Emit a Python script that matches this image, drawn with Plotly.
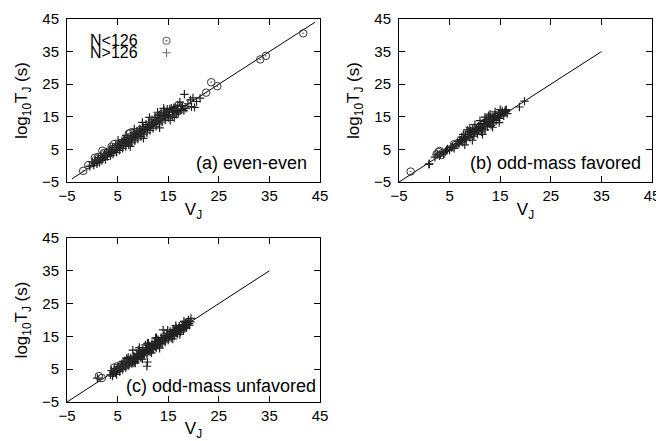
import plotly.graph_objects as go

# ---------------- data ----------------
ticks = [-5, 5, 15, 25, 35, 45]

# (a) even-even
a_lt_x = [-1.8, -0.8, 0.5, 1.1, 2.0, 2.3, 3.8, 4.3, 5.2, 6.4, 7.2, 7.5, 9.5, 11.8, 13.0, 22.5, 23.5, 24.7, 33.2, 34.3, 41.7]
a_lt_y = [-1.6, 0.2, 2.4, 2.7, 4.6, 3.9, 5.8, 6.6, 6.0, 7.4, 9.8, 10.1, 11.0, 13.6, 15.2, 22.4, 25.6, 24.4, 32.6, 33.7, 40.6]
a_gt_x = [-0.5, 0.0, 0.3, 0.6, 0.9, 1.2, 1.4, 1.7, 1.9, 2.1, 2.4, 2.6, 2.8, 3.0, 3.2, 3.4, 3.6, 3.8, 4.0, 4.1,
          4.4, 4.6, 4.8, 5.0, 5.2, 5.4, 5.6, 5.8, 6.0, 6.2, 6.4, 6.6, 6.8, 7.0, 7.2, 7.4, 7.6, 7.8, 8.0, 8.2,
          8.4, 8.6, 8.8, 9.0, 9.2, 9.4, 9.6, 9.8, 10.0, 10.2, 10.4, 10.6, 10.8, 11.0, 11.2, 11.4, 11.6, 11.8, 12.0, 12.2,
          12.4, 12.6, 12.8, 13.0, 13.2, 13.4, 13.6, 13.8, 14.0, 14.2, 14.4, 14.6, 14.8, 15.0, 15.2, 15.4, 15.6, 15.8, 16.0, 16.2,
          16.4, 16.6, 16.8, 17.0, 17.3, 17.5, 17.8, 18.1, 18.2, 18.5, 18.9, 19.4, 19.6, 19.9, 20.2, 20.6, 21.3,
          1.0, 2.3, 3.5, 4.5, 5.5, 6.3, 7.1, 7.9, 8.7, 9.5, 10.3, 11.1, 11.9, 12.7, 13.5, 14.3, 15.1, 15.9, 16.7, 17.5,
          9.9, 11.3, 12.9, 14.1, 8.3, 6.7, 5.1, 13.3, 10.1, 7.5,
          0.4, 1.6, 2.7, 3.9, 5.3, 6.1, 6.9, 7.7, 8.5, 9.3, 10.1, 10.9, 11.7, 12.5, 13.3, 14.5, 15.3, 16.1, 16.9, 17.7]
a_gt_y = [-0.2, 1.2, 0.1, 1.8, 0.6, 2.5, 1.0, 3.1, 1.6, 2.4, 3.6, 1.9, 4.2, 2.8, 3.9, 5.0, 3.1, 4.5, 5.6, 3.6,
          4.9, 6.2, 4.1, 5.4, 6.8, 4.7, 6.0, 7.4, 5.3, 6.7, 8.0, 5.9, 7.3, 8.6, 6.4, 7.9, 9.3, 7.0, 8.5, 10.0,
          7.6, 9.1, 10.6, 8.2, 9.8, 11.3, 8.9, 10.4, 12.0, 9.5, 11.1, 12.7, 10.1, 11.7, 13.4, 10.8, 12.4, 14.1, 11.5, 13.1,
          14.8, 12.1, 13.8, 15.5, 12.8, 14.5, 16.2, 13.4, 15.2, 16.8, 14.0, 15.9, 17.3, 14.7, 16.5, 13.9, 17.6, 15.2, 16.9, 14.8,
          18.1, 15.8, 17.4, 16.2, 19.5, 17.0, 18.4, 16.9, 21.9, 17.6, 19.0, 20.2, 18.1, 20.8, 17.9, 19.7, 20.7,
          1.5, 2.9, 4.2, 5.6, 6.4, 7.2, 7.7, 9.1, 9.6, 10.1, 10.9, 12.1, 12.7, 13.4, 14.3, 15.0, 15.7, 16.4, 16.6, 18.4,
          13.3, 14.8, 16.4, 17.6, 11.3, 9.3, 7.8, 11.6, 8.4, 5.9,
          0.9, 2.1, 3.1, 4.9, 5.9, 7.9, 7.0, 8.6, 8.8, 10.7, 11.5, 11.2, 13.1, 13.9, 15.6, 15.4, 17.3, 17.8, 18.6, 17.3]
a_fit_x = [-4, 44]
a_fit_y = [-4, 44]

# (b) odd-mass favored
b_lt_x = [-2.7, 2.4, 3.0, 3.4, 2.8, 5.9]
b_lt_y = [-1.8, 3.5, 4.5, 3.3, 4.2, 6.6]
b_gt_x = [0.9, 1.0, 2.1, 2.6, 3.0, 3.4, 3.8, 4.2, 4.6, 5.0, 5.4, 5.9, 6.3, 6.6, 6.9, 7.2, 7.4, 7.6, 7.9, 8.1,
          8.3, 8.6, 8.8, 9.0, 9.3, 9.5, 9.8, 10.0, 10.3, 10.5, 10.8, 11.0, 11.3, 11.5, 11.8, 12.0, 12.3, 12.5, 12.7, 12.9,
          13.2, 13.4, 13.7, 13.9, 14.2, 14.4, 14.7, 14.9, 15.2, 15.4, 15.7, 15.9, 16.2, 16.4, 18.8, 19.8,
          7.0, 8.0, 9.1, 10.1, 11.2, 12.2, 13.1, 14.0, 15.0, 16.0, 9.6, 11.9, 13.6, 7.7, 10.7,
          3.2, 4.4, 5.6, 6.7, 7.3, 8.2, 8.9, 9.7, 10.4, 11.1, 11.7, 12.4, 13.0, 13.8, 14.6, 15.3, 16.1,
          8.5, 9.0, 10.0, 11.0, 12.0, 13.0, 14.0, 15.0, 8.0, 9.5, 11.5, 13.5, 14.8]
b_gt_y = [0.4, 0.6, 2.6, 3.4, 3.0, 4.0, 3.6, 4.4, 5.1, 4.8, 5.6, 5.3, 6.4, 7.4, 6.9, 7.8, 8.8, 7.2, 8.4, 9.5,
          7.9, 9.0, 10.3, 8.6, 9.6, 10.8, 9.1, 10.2, 11.4, 9.7, 10.8, 12.0, 10.4, 11.5, 12.7, 11.0, 14.2, 12.0, 15.3, 13.2,
          12.4, 14.0, 13.1, 15.1, 13.8, 14.9, 16.0, 14.5, 15.6, 16.8, 15.3, 16.4, 17.2, 16.0, 18.0, 19.8,
          7.9, 8.7, 10.5, 11.0, 12.9, 13.5, 14.6, 15.4, 16.2, 17.0, 11.2, 13.6, 14.9, 9.6, 12.1,
          3.4, 4.8, 6.0, 6.8, 7.6, 8.5, 9.6, 10.1, 10.9, 11.6, 12.1, 12.9, 13.7, 14.3, 15.2, 16.0, 16.6,
          11.0, 11.6, 12.6, 13.8, 14.9, 15.8, 16.5, 17.2, 6.4, 7.8, 9.6, 11.8, 13.2]
b_fit_x = [-5, 35]
b_fit_y = [-5, 35]

# (c) odd-mass unfavored
c_lt_x = [1.3, 1.9, 4.3, 5.0, 5.7, 6.3, 7.0]
c_lt_y = [2.9, 2.3, 5.5, 5.9, 6.3, 6.5, 6.6]
c_gt_x = [1.0, 3.6, 3.8, 4.0, 4.2, 4.4, 4.6, 4.8, 5.0, 5.2, 5.4, 5.6, 5.8, 6.0, 6.2, 6.4, 6.6, 6.8, 7.0, 7.2,
          7.4, 7.6, 7.8, 8.0, 8.0, 8.2, 8.4, 8.6, 8.8, 9.0, 9.2, 9.4, 9.6, 9.8, 10.0, 10.2, 10.4, 10.5, 10.6, 10.8,
          10.8, 10.9, 11.0, 11.2, 11.4, 11.6, 11.8, 12.0, 12.2, 12.4, 12.6, 12.8, 13.0, 13.2, 13.4, 13.6, 13.8, 14.0, 14.0, 14.2,
          14.4, 14.6, 14.8, 15.0, 15.2, 15.4, 15.6, 15.8, 16.0, 16.2, 16.4, 16.6, 16.8, 17.0, 17.2, 17.4, 17.6, 17.8, 18.0, 18.2,
          18.4, 18.6, 18.8, 19.0, 19.2, 19.4, 19.5,
          4.1, 4.9, 5.7, 6.5, 7.3, 8.1, 8.9, 9.7, 10.5, 11.3, 12.1, 12.9, 13.7, 14.5, 15.3, 16.1, 16.9, 17.7, 18.5,
          6.1, 7.1, 9.1, 11.1, 12.7, 13.3, 15.9, 17.3, 9.9, 8.5, 11.7,
          4.5, 5.1, 5.5, 6.0, 6.7, 7.0, 7.5, 7.9, 8.3, 8.7, 9.1, 9.5, 9.9, 10.3, 10.7, 11.1, 11.5, 11.9, 12.3, 12.7,
          13.1, 13.5, 13.9, 14.3, 14.7, 15.1, 15.5, 15.9, 16.3, 16.7, 17.1, 17.5, 17.9, 18.3, 18.7, 19.1,
          9.3, 10.9, 12.5, 14.9, 16.5, 18.1, 6.8, 8.2]
c_gt_y = [2.3, 3.3, 4.6, 2.9, 3.8, 5.2, 4.0, 3.4, 4.9, 5.8, 4.3, 5.4, 6.6, 4.9, 6.0, 7.1, 5.5, 6.5, 7.8, 6.1,
          7.2, 8.4, 6.7, 7.7, 10.8, 9.0, 7.3, 8.4, 9.7, 7.9, 9.0, 10.3, 8.5, 9.6, 11.0, 9.1, 10.2, 12.4, 11.5, 9.7,
          5.9, 7.2, 10.9, 12.2, 10.3, 11.4, 12.8, 10.9, 12.1, 13.4, 11.5, 12.7, 14.0, 12.1, 13.3, 14.7, 12.7, 17.0, 13.9, 15.3,
          13.3, 14.5, 15.9, 13.9, 15.1, 16.5, 14.5, 15.7, 17.1, 15.1, 16.3, 17.6, 15.7, 16.9, 18.1, 16.3, 17.4, 18.6, 17.0, 18.0,
          19.2, 17.6, 18.7, 20.0, 18.4, 19.4, 20.5,
          4.1, 5.0, 5.8, 6.3, 7.5, 8.3, 8.8, 10.0, 10.6, 11.3, 12.4, 13.0, 13.8, 14.6, 15.3, 16.3, 17.0, 17.5, 18.4,
          7.4, 8.6, 10.8, 12.9, 14.6, 11.4, 14.2, 15.6, 8.1, 6.9, 10.0,
          4.5, 5.3, 4.9, 6.2, 6.9, 6.3, 7.9, 7.2, 8.7, 8.0, 9.4, 8.9, 10.5, 9.8, 11.0, 10.5, 11.9, 11.3, 12.8, 12.0,
          13.5, 12.9, 14.3, 13.7, 15.2, 14.5, 15.9, 15.3, 16.8, 16.1, 17.5, 16.9, 18.2, 17.5, 19.3, 18.9,
          11.6, 12.9, 14.5, 16.9, 18.3, 19.6, 8.3, 6.9]
c_fit_x = [-5, 35]
c_fit_y = [-5, 35]

# ---------------- figure ----------------
# The page body adds an 8 px offset; reference pixel positions are converted accordingly.
OFF = 8
W, H = 664 - OFF, 441 - OFF
FONT = "Liberation Sans, Arial, sans-serif"

circle_marker = dict(symbol="circle-open-dot", size=7.5, color="#333333", line=dict(width=1, color="#333333"))
plus_marker = dict(symbol="cross-thin-open", size=6, color="#222222", line=dict(width=1.2, color="#222222"))

fig = go.Figure()
panels = [
    ("x", "y", a_lt_x, a_lt_y, a_gt_x, a_gt_y, a_fit_x, a_fit_y),
    ("x2", "y2", b_lt_x, b_lt_y, b_gt_x, b_gt_y, b_fit_x, b_fit_y),
    ("x3", "y3", c_lt_x, c_lt_y, c_gt_x, c_gt_y, c_fit_x, c_fit_y),
]
for xa, ya, lx, ly, gx, gy, fx, fy in panels:
    fig.add_trace(go.Scatter(x=fx, y=fy, mode="lines", line=dict(color="black", width=1),
                             xaxis=xa, yaxis=ya, showlegend=False, hoverinfo="skip"))
    fig.add_trace(go.Scatter(x=gx, y=gy, mode="markers", marker=plus_marker, name="N>126",
                             xaxis=xa, yaxis=ya, showlegend=False))
    fig.add_trace(go.Scatter(x=lx, y=ly, mode="markers", marker=circle_marker, name="N<126",
                             xaxis=xa, yaxis=ya, showlegend=False))


def px_x(p):
    return (p - OFF) / W


def px_y(p):
    return 1 - (p - OFF) / H


def axis(domain, anchor, title, is_x):
    return dict(
        domain=domain, anchor=anchor, range=[-5, 45], tickvals=ticks,
        ticks="inside", ticklen=6, tickwidth=1, tickcolor="black",
        mirror="ticks", showline=True, linecolor="black", linewidth=1,
        showgrid=False, zeroline=False, automargin=False,
        ticklabelstandoff=0 if is_x else 4,
        tickfont=dict(family=FONT, size=15, color="black"),
        title=dict(text=title, font=dict(family=FONT, size=17, color="black"), standoff=0 if is_x else 9),
    )


xa_dom = [px_x(67), px_x(320)]
xb_dom = [px_x(399), px_x(652)]
y_top = [px_y(182), px_y(19)]
y_bot = [px_y(402), px_y(238)]

xt = "V<sub>J</sub>"
yt = "log<sub>10</sub>T<sub>J</sub> (s)"

fig.update_layout(
    width=W, height=H,
    margin=dict(l=0, r=0, t=0, b=0),
    paper_bgcolor="white", plot_bgcolor="white",
    font=dict(family=FONT, color="black"),
    xaxis=axis(xa_dom, "y", xt, True),
    yaxis=axis(y_top, "x", yt, False),
    xaxis2=axis(xb_dom, "y2", xt, True),
    yaxis2=axis(y_top, "x2", yt, False),
    xaxis3=axis(xa_dom, "y3", xt, True),
    yaxis3=axis(y_bot, "x3", yt, False),
    showlegend=False,
)

# legend key (gnuplot style: label left, symbol right)
fig.add_trace(go.Scatter(x=[0, 0], y=[1, 0], mode="markers",
                         marker=dict(symbol=[circle_marker["symbol"], plus_marker["symbol"]],
                                     size=[7, 6], color="#303030", line=dict(width=1.1, color="#303030")),
                         xaxis="x4", yaxis="y4", showlegend=False, hoverinfo="skip"))
fig.update_layout(
    xaxis4=dict(domain=[px_x(160), px_x(173)], range=[-1, 1], visible=False, anchor="y4", automargin=False),
    yaxis4=dict(domain=[px_y(58.7), px_y(34.7)], range=[-0.5, 1.5], visible=False, anchor="x4", automargin=False),
)

key_text = ("<span style='font-size:16px'>N&lt;126</span><br>"
            "<span style='font-size:16px'>N&gt;126</span>")
fig.add_annotation(text=key_text, xref="paper", yref="paper", x=px_x(140), y=px_y(46.7),
                   xanchor="right", yanchor="middle", align="right", showarrow=False,
                   font=dict(family=FONT, size=9.3, color="black"))

ann_font = dict(family=FONT, size=18, color="black")
fig.add_annotation(text="(a) even-even", xref="paper", yref="paper", x=px_x(309), y=px_y(163),
                   xanchor="right", yanchor="middle", showarrow=False, font=ann_font)
fig.add_annotation(text="(b) odd-mass favored", xref="paper", yref="paper", x=px_x(643), y=px_y(163),
                   xanchor="right", yanchor="middle", showarrow=False, font=ann_font)
fig.add_annotation(text="(c) odd-mass unfavored", xref="paper", yref="paper", x=px_x(318), y=px_y(385.7),
                   xanchor="right", yanchor="middle", showarrow=False, font=ann_font)

fig.write_html("out.html")
